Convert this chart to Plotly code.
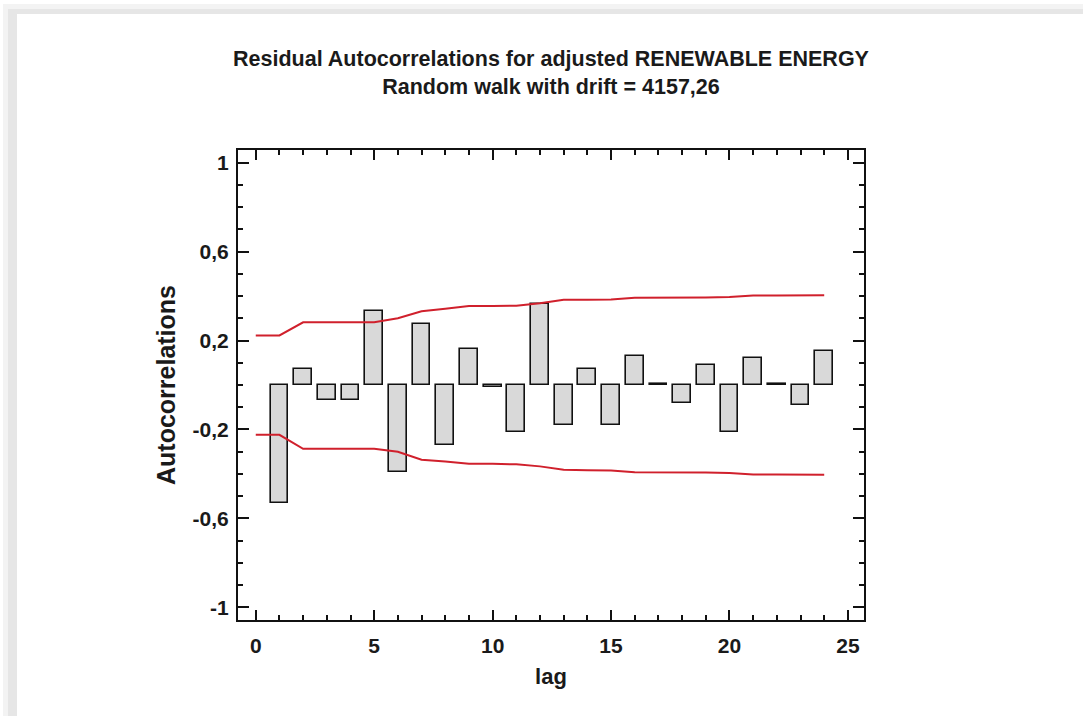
import plotly.graph_objects as go

# ---- data ----
lags = list(range(1, 25))
acf = [-0.530, 0.072, -0.068, -0.068, 0.332, -0.391, 0.275, -0.271, 0.162, -0.010,
       -0.210, 0.365, -0.180, 0.072, -0.180, 0.132, 0.003, -0.081, 0.092, -0.210,
       0.122, 0.006, -0.090, 0.152]

limit_lags = list(range(0, 25))
upper_limit = [0.223, 0.223, 0.282, 0.282, 0.282, 0.282, 0.300, 0.332, 0.343, 0.355,
               0.355, 0.357, 0.368, 0.383, 0.383, 0.385, 0.392, 0.392, 0.393, 0.394,
               0.396, 0.403, 0.403, 0.403, 0.404]
lower_limit = [-0.224, -0.224, -0.287, -0.287, -0.287, -0.287, -0.300, -0.336, -0.344, -0.354,
               -0.354, -0.357, -0.366, -0.381, -0.383, -0.385, -0.392, -0.392, -0.393, -0.394,
               -0.396, -0.403, -0.403, -0.403, -0.404]

x_ticks = [0, 5, 10, 15, 20, 25]
y_ticks = [1, 0.6, 0.2, -0.2, -0.6, -1]
y_tick_labels = ["1", "0,6", "0,2", "-0,2", "-0,6", "-1"]

title_text = "Residual Autocorrelations for adjusted RENEWABLE ENERGY<br>Random walk with drift = 4157,26"

# ---- figure ----
W, H = 1083, 716
L, R, T, B = 238, 219, 150, 96
pw, ph = W - L - R, H - T - B


def px_x(p):
    return (p - L) / pw


def px_y(p):
    return (H - B - p) / ph


fig = go.Figure()
fig.add_trace(go.Bar(
    x=lags, y=acf, width=0.75,
    marker=dict(color="#d9d9d9", line=dict(color="#111111", width=1.6)),
    showlegend=False, hoverinfo="x+y",
))
fig.add_trace(go.Scatter(
    x=limit_lags, y=upper_limit, mode="lines",
    line=dict(color="#d0202c", width=2), showlegend=False,
))
fig.add_trace(go.Scatter(
    x=limit_lags, y=lower_limit, mode="lines",
    line=dict(color="#d0202c", width=2), showlegend=False,
))

shapes = [
    dict(type="rect", xref="paper", yref="paper", layer="below",
         x0=px_x(3), x1=px_x(17), y0=px_y(716), y1=px_y(4),
         fillcolor="#f3f3f3", line=dict(width=0)),
    dict(type="rect", xref="paper", yref="paper", layer="below",
         x0=px_x(3), x1=px_x(1083), y0=px_y(14), y1=px_y(4),
         fillcolor="#f3f3f3", line=dict(width=0)),
    dict(type="rect", xref="paper", yref="paper", layer="below",
         x0=px_x(8), x1=px_x(17), y0=px_y(716), y1=px_y(9),
         fillcolor="#e6e6e6", line=dict(width=0)),
    dict(type="rect", xref="paper", yref="paper", layer="below",
         x0=px_x(8), x1=px_x(1083), y0=px_y(14), y1=px_y(9),
         fillcolor="#e6e6e6", line=dict(width=0)),
]

axis_font = dict(family="Liberation Sans, Arial, sans-serif", size=21, color="#1a1a1a", weight="bold")

fig.update_layout(
    width=W, height=H, autosize=False,
    margin=dict(l=L, r=R, t=T, b=B, pad=0),
    paper_bgcolor="white", plot_bgcolor="white",
    bargap=0,
    shapes=shapes,
    title=dict(
        text=title_text, x=0.5, xanchor="center", xref="paper",
        y=1 - 66 / H, yanchor="top", yref="container",
        font=dict(family="Liberation Sans, Arial, sans-serif", size=21.5, color="#1a1a1a", weight="bold"),
    ),
    xaxis=dict(
        range=[-0.75, 25.68], tickmode="array", tickvals=x_ticks,
        ticks="inside", ticklen=10, tickwidth=2, tickcolor="#111111",
        showline=True, linewidth=2, linecolor="#111111", mirror="ticks",
        showgrid=False, zeroline=False,
        minor=dict(dtick=1, tick0=0, ticks="inside", ticklen=5, tickwidth=1.5, tickcolor="#111111", showgrid=False),
        tickfont=axis_font, ticklabelstandoff=6,
        title=dict(text="lag", font=dict(family="Liberation Sans Narrow, Liberation Sans, Arial, sans-serif", size=22, color="#1a1a1a", weight="bold"), standoff=12),
    ),
    yaxis=dict(
        range=[-1.057, 1.057], tickmode="array", tickvals=y_ticks, ticktext=y_tick_labels,
        ticks="inside", ticklen=11, tickwidth=2, tickcolor="#111111",
        showline=True, linewidth=2, linecolor="#111111", mirror="ticks",
        showgrid=False, zeroline=False,
        minor=dict(dtick=0.1, tick0=0, ticks="inside", ticklen=5, tickwidth=1.5, tickcolor="#111111", showgrid=False),
        tickfont=axis_font, ticklabelstandoff=3,
        title=dict(text="Autocorrelations", font=dict(family="Liberation Sans, Arial, sans-serif", size=25, color="#1a1a1a", weight="bold"), standoff=10),
    ),
)

fig.write_html("out.html")
